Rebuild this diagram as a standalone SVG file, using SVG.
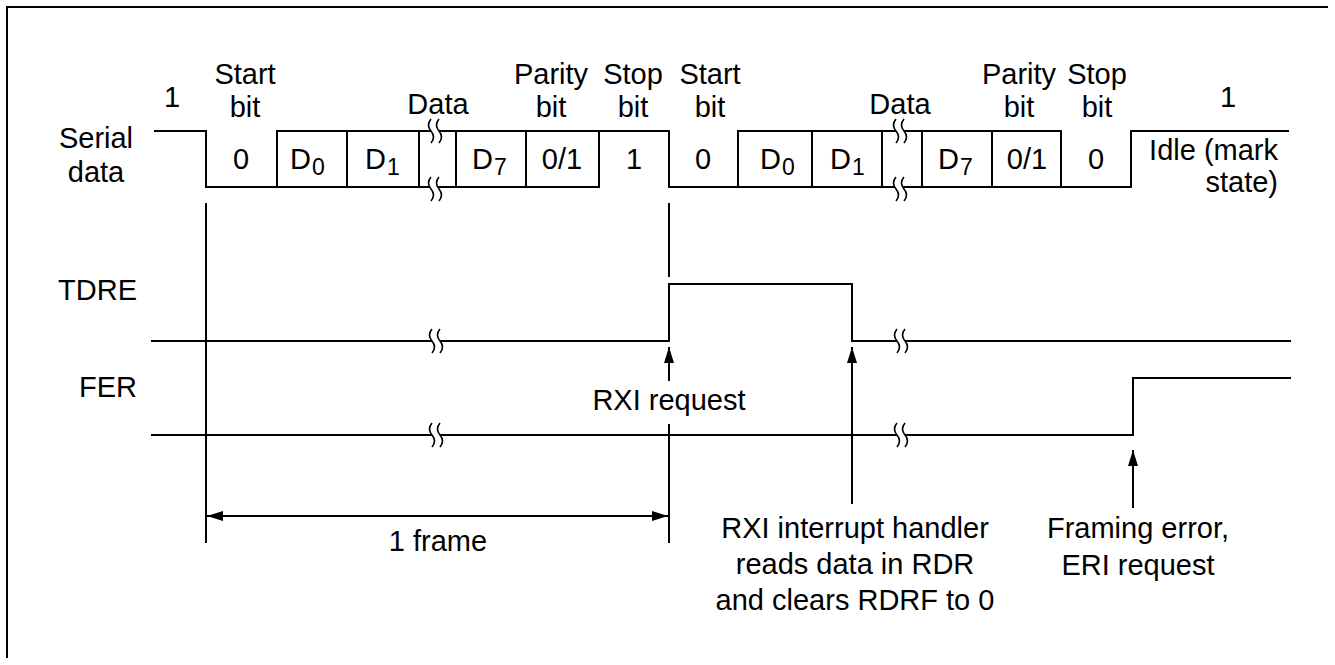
<svg xmlns="http://www.w3.org/2000/svg" width="1335" height="665" viewBox="0 0 1335 665">
<style>
.t{font-family:"Liberation Sans",Arial,Helvetica,sans-serif;font-size:29px;fill:#000}
.m{text-anchor:middle}
.e{text-anchor:end}
.sb{font-size:23px}
.w{fill:none;stroke:#000;stroke-width:2;stroke-linecap:square}
.a{fill:none;stroke:#000;stroke-width:2}
.bk{fill:#fff;stroke:none}
.bc{fill:none;stroke:#000;stroke-width:1.6}
</style>
<defs>
<marker id="ah" markerUnits="userSpaceOnUse" markerWidth="16" markerHeight="10" refX="16" refY="5" orient="auto-start-reverse">
<path d="M0,0 L16,5 L0,10 z" fill="#000"/>
</marker>
<g id="brk">
<path class="bk" d="M-4,-12 Q-9,-6 -4,0 Q1,6 -4,12 L4,12 Q9,6 4,0 Q-1,-6 4,-12 z"/>
<path class="bc" d="M-4,-12 Q-9,-6 -4,0 Q1,6 -4,12"/>
<path class="bc" d="M4,-12 Q-1,-6 4,0 Q9,6 4,12"/>
</g>
</defs>
<rect width="1335" height="665" fill="#fff"/>
<path class="a" d="M7,658 V7 H1328"/>

<g id="signal-labels">
<text class="t m" x="96" y="148">Serial</text>
<text class="t m" x="96" y="182">data</text>
<text class="t e" x="137" y="300">TDRE</text>
<text class="t e" x="137" y="397">FER</text>
</g>

<g id="bit-headers">
<text class="t m" x="172" y="107">1</text>
<text class="t m" x="245" y="84">Start</text>
<text class="t m" x="245" y="117">bit</text>
<text class="t m" x="438" y="114">Data</text>
<text class="t m" x="551" y="84">Parity</text>
<text class="t m" x="551" y="117">bit</text>
<text class="t m" x="633" y="84">Stop</text>
<text class="t m" x="633" y="117">bit</text>
<text class="t m" x="710" y="84">Start</text>
<text class="t m" x="710" y="117">bit</text>
<text class="t m" x="900" y="114">Data</text>
<text class="t m" x="1019" y="84">Parity</text>
<text class="t m" x="1019" y="117">bit</text>
<text class="t m" x="1097" y="84">Stop</text>
<text class="t m" x="1097" y="117">bit</text>
<text class="t m" x="1228" y="107">1</text>
</g>

<g id="serial-data">
<path class="w" d="M155,131 H206 V187 H599"/>
<path class="w" d="M277,187 V131 H669 V187 H1131 V131 H1288"/>
<path class="w" d="M738,187 V131 H1061"/>
<path class="w" d="M347,131 V187 M419,131 V187 M456,131 V187 M526,131 V187 M599,131 V187"/>
<path class="w" d="M812,131 V187 M882,131 V187 M922,131 V187 M992,131 V187 M1061,131 V187"/>
<use href="#brk" x="435" y="131"/>
<use href="#brk" x="435" y="189"/>
<use href="#brk" x="900" y="131"/>
<use href="#brk" x="900" y="189"/>
<text class="t m" x="241" y="169">0</text>
<text class="t" x="290" y="169">D<tspan class="sb" dx="1" dy="6">0</tspan></text>
<text class="t" x="365" y="169">D<tspan class="sb" dx="1" dy="6">1</tspan></text>
<text class="t" x="472" y="169">D<tspan class="sb" dx="1" dy="6">7</tspan></text>
<text class="t m" x="562" y="169">0/1</text>
<text class="t m" x="634" y="169">1</text>
<text class="t m" x="703" y="169">0</text>
<text class="t" x="760" y="169">D<tspan class="sb" dx="1" dy="6">0</tspan></text>
<text class="t" x="830" y="169">D<tspan class="sb" dx="1" dy="6">1</tspan></text>
<text class="t" x="938" y="169">D<tspan class="sb" dx="1" dy="6">7</tspan></text>
<text class="t m" x="1027" y="169">0/1</text>
<text class="t m" x="1096" y="169">0</text>
<text class="t e" x="1278" y="160">Idle (mark</text>
<text class="t e" x="1278" y="192">state)</text>
</g>

<g id="tdre">
<path class="w" d="M152,341 H669 V284 H852 V341 H1290"/>
<use href="#brk" x="436" y="341"/>
<use href="#brk" x="901" y="341"/>
</g>

<g id="fer">
<path class="w" d="M152,435 H1133 V378 H1290"/>
<use href="#brk" x="436" y="435"/>
<use href="#brk" x="901" y="435"/>
</g>

<g id="connectors">
<path class="a" d="M206,203 V543"/>
<path class="a" d="M669,203 V277"/>
<path class="a" d="M669,424 V543"/>
<line class="a" x1="669" y1="381" x2="669" y2="347" marker-end="url(#ah)"/>
<line class="a" x1="852" y1="504" x2="852" y2="347" marker-end="url(#ah)"/>
<line class="a" x1="1133" y1="508" x2="1133" y2="450" marker-end="url(#ah)"/>
<line class="a" x1="207" y1="516" x2="668" y2="516" marker-start="url(#ah)" marker-end="url(#ah)"/>
</g>

<g id="annotations">
<text class="t m" x="669" y="410">RXI request</text>
<text class="t m" x="438" y="551">1 frame</text>
<text class="t m" x="855" y="538">RXI interrupt handler</text>
<text class="t m" x="855" y="574">reads data in RDR</text>
<text class="t m" x="855" y="610">and clears RDRF to 0</text>
<text class="t m" x="1138" y="538">Framing error,</text>
<text class="t m" x="1138" y="575">ERI request</text>
</g>
</svg>
